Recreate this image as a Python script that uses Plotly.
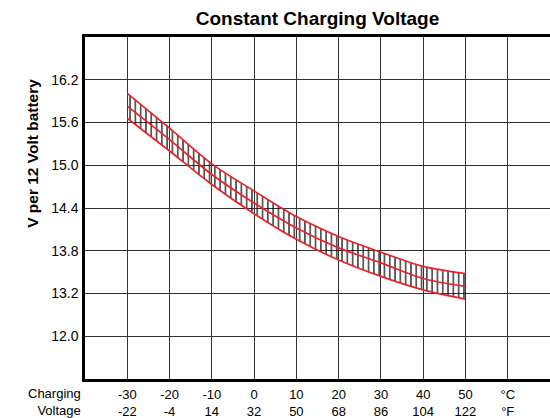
import plotly.graph_objects as go

# ---- data ----
temp_c = [-30, -20, -10, 0, 10, 20, 30, 40, 50]
upper = [16.01, 15.52, 15.02, 14.64, 14.28, 14.00, 13.78, 13.58, 13.48]
middle = [15.83, 15.36, 14.87, 14.47, 14.12, 13.84, 13.63, 13.41, 13.30]
lower = [15.66, 15.20, 14.73, 14.32, 13.96, 13.67, 13.44, 13.25, 13.12]

x_tickvals = [-30, -20, -10, 0, 10, 20, 30, 40, 50, 60]
x_labels_c = ["-30", "-20", "-10", "0", "10", "20", "30", "40", "50", "°C"]
x_labels_f = ["-22", "-4", "14", "32", "50", "68", "86", "104", "122", "°F"]

y_tickvals = [12.6, 13.2, 13.8, 14.4, 15.0, 15.6, 16.2]
y_ticktext = ["12.0", "13.2", "13.8", "14.4", "15.0", "15.6", "16.2"]

FONT = "Liberation Sans, Arial, Helvetica, sans-serif"
RED = "#e8222a"
GRID = "#333333"

x_ticktext = [c + "<br>" + f for c, f in zip(x_labels_c, x_labels_f)]

fig = go.Figure()

fig.add_trace(go.Scatter(
    x=temp_c, y=lower, mode="lines",
    line=dict(color=RED, width=1.7, shape="spline", smoothing=0.9),
    hoverinfo="skip", showlegend=False))
fig.add_trace(go.Scatter(
    x=temp_c, y=upper, mode="lines", fill="tonexty",
    fillcolor="rgba(0,0,0,0)",
    fillpattern=dict(shape="|", size=5.3, solidity=0.22, fgcolor="black",
                     fgopacity=1),
    line=dict(color=RED, width=1.7, shape="spline", smoothing=0.9),
    hoverinfo="skip", showlegend=False))
fig.add_trace(go.Scatter(
    x=temp_c, y=middle, mode="lines",
    line=dict(color=RED, width=1.7, shape="spline", smoothing=0.9),
    hoverinfo="skip", showlegend=False))

fig.update_layout(
    width=550, height=418,
    margin=dict(l=85, r=0, t=37, b=39),
    paper_bgcolor="white", plot_bgcolor="white",
    font=dict(family=FONT, color="black", size=13),
    title=dict(text="<b>Constant Charging Voltage</b>",
               font=dict(family=FONT, size=19, color="black"),
               x=0.5, xref="paper", xanchor="center",
               y=1 - 18 / 418, yref="container", yanchor="middle"),
    xaxis=dict(range=[-40, 70], tickvals=x_tickvals, ticktext=x_ticktext,
               showgrid=True, gridcolor=GRID, gridwidth=1.2,
               showline=True, linecolor="black", linewidth=2.5, mirror=True,
               zeroline=False, ticks="", tickfont=dict(size=13),
               ticklabelstandoff=2),
    yaxis=dict(range=[12.0, 16.8], tickvals=y_tickvals, ticktext=y_ticktext,
               showgrid=True, gridcolor=GRID, gridwidth=1.2,
               showline=True, linecolor="black", linewidth=2.5, mirror=False,
               zeroline=False, ticks="", tickfont=dict(size=14),
               ticklabelstandoff=1),
    annotations=[
        dict(text="Charging<br>Voltage", xref="paper", yref="paper",
             x=0, y=0, xanchor="right", yanchor="top", align="right",
             xshift=-2, yshift=-5, showarrow=False, font=dict(size=13)),
        dict(text="<b>V per 12 Volt battery</b>", xref="paper", yref="paper",
             x=-0.112, y=0.661, xanchor="center", yanchor="middle",
             textangle=-90, showarrow=False, font=dict(size=15.5)),
    ],
)

fig.write_html("out.html", post_script="document.body.style.margin='0';",
               config={"displayModeBar": False})
